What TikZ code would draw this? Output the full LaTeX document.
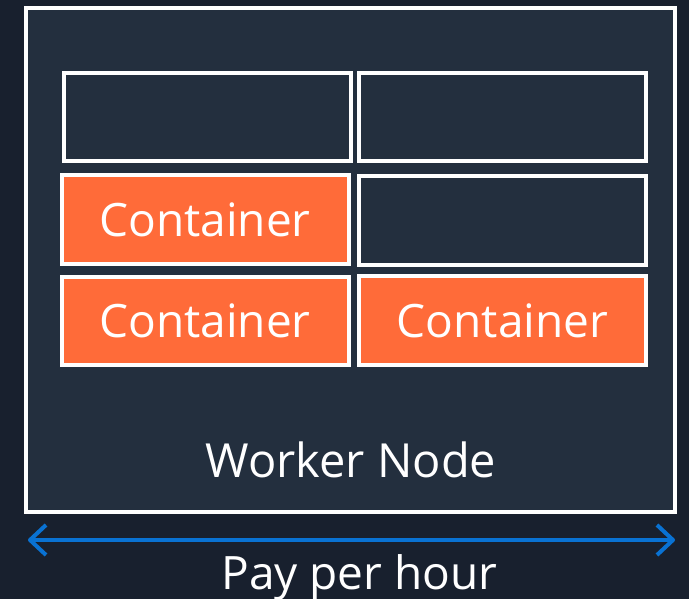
\documentclass[tikz,border=0pt]{standalone}
\usepackage{fontspec}
\setmainfont{Open Sans}
\usetikzlibrary{arrows.meta}
\definecolor{pagebg}{HTML}{18202E}
\definecolor{nodebg}{HTML}{232F3E}
\definecolor{boxorange}{HTML}{FF6B39}
\definecolor{arrowblue}{HTML}{0972D3}
\tikzset{
  slotbox/.style={draw=white, line width=4pt, fill=nodebg, rectangle, inner sep=0pt},
  ctrbox/.style={slotbox, fill=boxorange, text=white, font=\fontsize{46}{50}\selectfont},
  label/.style={text=white, inner sep=0pt, anchor=base},
}
\begin{document}
\begin{tikzpicture}[x=1pt, y=-1pt]
  % page background and fixed bounds
  \fill[pagebg] (0,0) rectangle (689,599);
  \useasboundingbox (0,0) rectangle (689,599);

  % worker node frame
  \node[slotbox, minimum width=649pt, minimum height=504pt] (worker) at (350.5,260) {};

  % slots: two columns, three rows
  \node[slotbox, minimum width=287pt, minimum height=88pt] (s11) at (207.5,117) {};
  \node[slotbox, minimum width=287pt, minimum height=88pt] (s12) at (502.5,117) {};
  \node[ctrbox, minimum width=287pt, minimum height=89pt] (s21) at (205,219.5) {Container};
  \node[slotbox, minimum width=287pt, minimum height=89pt] (s22) at (502.5,220.5) {};
  \node[ctrbox, minimum width=287pt, minimum height=88pt] (s31) at (205,321) {Container};
  \node[ctrbox, minimum width=287pt, minimum height=88pt] (s32) at (502.5,320.5) {Container};

  % labels
  \node[label, font=\fontsize{47}{50}\selectfont] (wlabel) at (351,477) {Worker Node};
  \node[label, font=\fontsize{46}{50}\selectfont] (plabel) at (359.5,589) {Pay per hour};

  % billing span arrow
  \coordinate (aL) at (28,540);
  \coordinate (aR) at (675,540);
  \draw[arrowblue, line width=4pt, line cap=round,
        {Straight Barb[length=16pt, width=30pt, line join=round]}-{Straight Barb[length=16pt, width=30pt, line join=round]}]
        (aL) -- (aR);
\end{tikzpicture}
\end{document}
